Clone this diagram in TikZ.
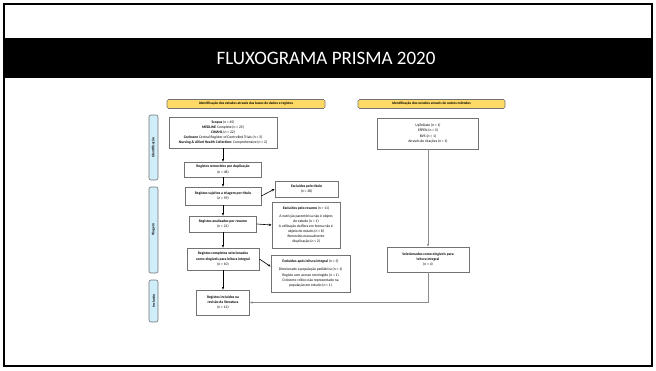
\documentclass[tikz,border=0pt]{standalone}
\usepackage{fontspec}
\setmainfont{Carlito}
\usetikzlibrary{arrows.meta}

\definecolor{hdryellow}{RGB}{255,217,102}
\definecolor{sideblue}{RGB}{208,237,250}

\begin{document}
\begin{tikzpicture}[x=1pt,y=-1pt,>={Stealth[length=3pt,width=2.4pt]},line width=0.6pt,
    box/.style={draw=black!55,line width=0.7pt,fill=white,align=center,inner sep=1pt,
      font=\fontsize{3.7}{5.1}\selectfont},
    hdr/.style={draw=black!55,line width=0.6pt,fill=hdryellow,rounded corners=1.5pt,
      minimum height=9pt,inner sep=0pt,font=\fontsize{3.6}{4}\selectfont\bfseries},
    side/.style={draw=black!55,line width=0.6pt,fill=sideblue,rounded corners=2pt,rotate=90,
      minimum height=9pt,inner sep=0pt,font=\fontsize{3.6}{4}\selectfont\bfseries},
    flow/.style={->,black},
    other/.style={->,black!45}]
        \useasboundingbox (0,0) rectangle (656,370);
        \draw[line width=1.4pt] (4,4) rectangle (652,366);
        \fill[black] (4,38) rectangle (652,78);
        \node[text=white,font=\fontsize{19}{22}\selectfont] (title) at (326,58) {FLUXOGRAMA PRISMA 2020};

        % headers and phases
        \node[hdr,minimum width=158pt] (hdrL) at (246,104) {Identificação dos estudos através das bases de dados e registos};
        \node[hdr,minimum width=147pt] (hdrR) at (431.5,104) {Identificação dos estudos através de outros métodos};
        \node[side,minimum width=65pt] (sideA) at (153.5,147.5) {Identificação};
        \node[side,minimum width=86pt] (sideB) at (153.5,230) {Triagem};
        \node[side,minimum width=42pt] (sideC) at (153.5,301) {Inclusão};

        % databases column
        \node[box,minimum width=108pt,minimum height=31pt] (src) at (223,132.5)
          {\textbf{Scopus} (\textit{n} = 45)\\\textbf{MEDLINE} Complete (\textit{n} = 25)\\\textbf{CINAHL} (\textit{n} = 22)\\
           \textbf{Cochrane} Central Register of Controlled Trials (\textit{n} = 3)\\
           \textbf{Nursing \& Allied Health Collection:} Comprehensive (\textit{n} = 2)};
        \node[box,minimum width=77pt,minimum height=15pt] (dup) at (223,169.5)
          {\textbf{Registos removidos por duplicação}\\(\textit{n} = 48)};
        \node[box,minimum width=76pt,minimum height=18pt] (tit) at (223,196)
          {\textbf{Registos sujeitos a triagem por título}\\(\textit{n} = 59)};
        \node[box,minimum width=63pt,minimum height=16pt] (extit) at (306.5,189)
          {\textbf{Excluídos pelo título}\\(\textit{n} = 38)};
        \node[box,minimum width=67pt,minimum height=16pt] (abs) at (223,224)
          {\textbf{Registos analisados por resumo}\\(\textit{n} = 21)};
        \node[box,minimum width=68pt,minimum height=46pt] (exabs) at (306,225)
          {\textbf{Excluídos pelo resumo} (\textit{n} = 11)\\[3pt]
           A nutrição parentérica não é objeto\\de estudo (\textit{n} = 1)\\
           A utilização da fibra em forma não é\\objeto de estudo (\textit{n} = 8)\\
           Removido manualmente\\/duplicação (\textit{n} = 2)};
        \node[box,minimum width=72pt,minimum height=22pt] (full) at (223,259)
          {\textbf{Registos completos selecionados}\\\textbf{como elegíveis para leitura integral}\\(\textit{n} = 10)};
        \node[box,minimum width=79pt,minimum height=37pt] (exfull) at (310.5,273.5)
          {\textbf{Excluídos após leitura integral} (\textit{n} = 3)\\[3pt]
           Direcionado à população pediátrica (\textit{n} = 1)\\
           Registo sem acesso restringido (\textit{n} = 1)\\
           O doente crítico não representado na\\população em estudo (\textit{n} = 1)};
        \node[box,minimum width=53pt,minimum height=25pt] (incl) at (223,302.5)
          {\textbf{Registos incluídos na}\\\textbf{revisão da literatura}\\(\textit{n} = 12)};

        % other methods column
        \node[box,minimum width=101pt,minimum height=31pt] (oth) at (428,133.5)
          {UpToDate (\textit{n} = 1)\\ESPEN (\textit{n} = 3)\\BVS (\textit{n} = 1)\\Através de citações (\textit{n} = 1)};
        \node[box,minimum width=82pt,minimum height=25pt] (sel) at (428,259.5)
          {\textbf{Selecionados como elegíveis para}\\\textbf{leitura integral}\\(\textit{n} = 4)};

        \path[flow] (src) edge (dup)
                    (dup) edge (tit)
                    (tit) edge (abs)
                    (abs) edge (full)
                    (full) edge (incl)
                    (tit.east) edge (extit.west)
                    (abs.east) edge (exabs.west)
                    (full.east) edge (exfull.170);
        \draw[other] (oth) -- (sel);
        \draw[other] (sel) |- (incl);
\end{tikzpicture}
\end{document}
